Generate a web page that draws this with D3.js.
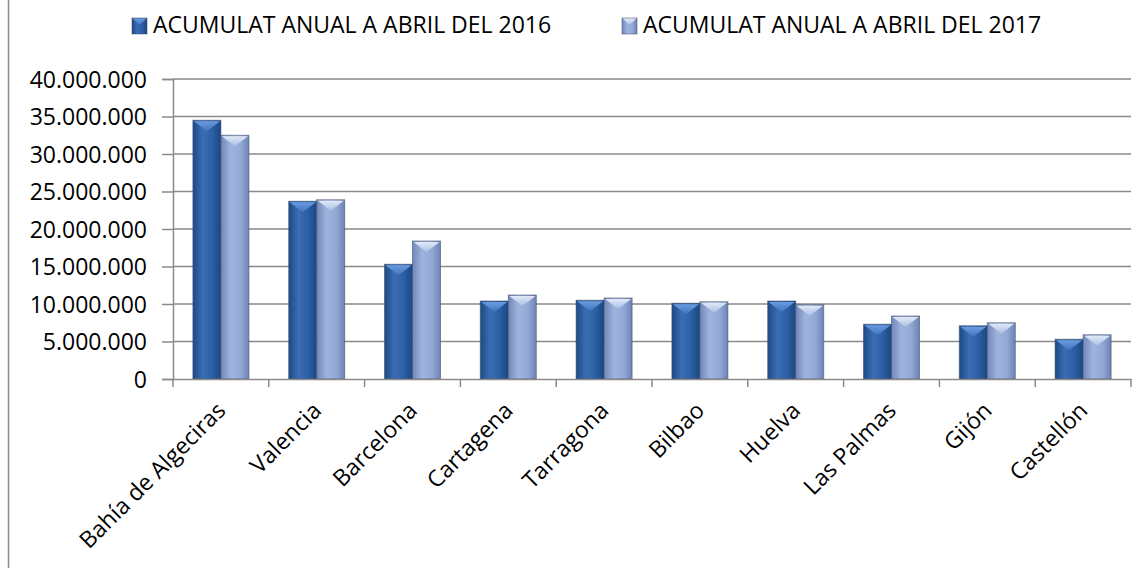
<!DOCTYPE html>
<html>
<head>
<meta charset="utf-8">
<script src="https://cdn.jsdelivr.net/npm/d3@7"></script>
<style>
  body { margin: 0; background: #fff; }
  svg text { font-family: "Open Sans", sans-serif; fill: #000; }
</style>
</head>
<body>
<div id="chart"></div>
<script>
// Ports and yearly totals
const ports = ["Bahía de Algeciras", "Valencia", "Barcelona", "Cartagena", "Tarragona",
               "Bilbao", "Huelva", "Las Palmas", "Gijón", "Castellón"];
const values2016 = [34500000, 23700000, 15300000, 10400000, 10500000, 10100000, 10400000, 7300000, 7100000, 5300000];
const values2017 = [32500000, 23900000, 18400000, 11200000, 10800000, 10300000, 9900000, 8400000, 7500000, 5900000];
const seriesNames = ["ACUMULAT ANUAL A ABRIL DEL 2016", "ACUMULAT ANUAL A ABRIL DEL 2017"];
const yTicks = [0, 5000000, 10000000, 15000000, 20000000, 25000000, 30000000, 35000000, 40000000];

const W = 1147, H = 568;
const margin = { top: 79, right: 16, bottom: 189, left: 173 };
const width = W - margin.left - margin.right;
const height = H - margin.top - margin.bottom;
const fontSize = "23px";

const svg = d3.select("#chart").append("svg")
    .attr("width", W).attr("height", H);

// gradients for the bevelled bars
const defs = svg.append("defs");
const styles = [
    { id: "g0", stops: ["#1d4a86", "#3a6db3", "#2c5ea3", "#1c4680"], cap: ["#6b9be0", "#3f74bd"] },
    { id: "g1", stops: ["#6f88bb", "#9fb3dc", "#93a9d5", "#6c84b5"], cap: ["#e2eaf8", "#a9bde3"] }
];
styles.forEach(s => {
    const g = defs.append("linearGradient").attr("id", s.id).attr("x1", "0").attr("x2", "1").attr("y1", "0").attr("y2", "0");
    [0, 0.35, 0.7, 1].forEach((o, i) => g.append("stop").attr("offset", o).attr("stop-color", s.stops[i]));
    const c = defs.append("linearGradient").attr("id", s.id + "c").attr("x1", "0").attr("x2", "0").attr("y1", "0").attr("y2", "1");
    c.append("stop").attr("offset", 0).attr("stop-color", s.cap[0]);
    c.append("stop").attr("offset", 1).attr("stop-color", s.cap[1]);
});

// outer chart border (left edge visible)
svg.append("line").attr("x1", 8.5).attr("x2", 8.5).attr("y1", 0).attr("y2", H)
    .attr("stroke", "#8c8c8c").attr("stroke-width", 1.5);

const g = svg.append("g").attr("transform", `translate(${margin.left},${margin.top})`);

const x = d3.scaleBand().domain(ports).range([0, width]).paddingInner(0).paddingOuter(0);
const x1 = d3.scaleBand().domain([0, 1]).range([0, x.bandwidth()]).paddingInner(0).paddingOuter(0.71);
const y = d3.scaleLinear().domain([0, 40000000]).range([height, 0]);

// gridlines
g.append("g").selectAll("line").data(yTicks.slice(1)).enter().append("line")
    .attr("x1", 0).attr("x2", width)
    .attr("y1", d => y(d)).attr("y2", d => y(d))
    .attr("stroke", "#8a8a8a").attr("stroke-width", 1.5);

// y axis
const yAxis = g.append("g")
    .call(d3.axisLeft(y).tickValues(yTicks).tickSize(11).tickPadding(15)
        .tickFormat(d => d3.format(",")(d).replace(/,/g, ".")));
yAxis.selectAll("path, line").attr("stroke", "#8a8a8a").attr("stroke-width", 1.5);
yAxis.selectAll("text").style("font-size", fontSize).style("font-family", "'Open Sans', sans-serif").attr("dy", "0.35em");

// bars
const data = ports.map((p, i) => ({ port: p, vals: [values2016[i], values2017[i]] }));
const groups = g.selectAll(".grp").data(data).enter().append("g")
    .attr("transform", d => `translate(${x(d.port)},0)`);

[0, 1].forEach(s => {
    const bw = x1.bandwidth();
    groups.append("rect")
        .attr("x", x1(s)).attr("y", d => y(d.vals[s]))
        .attr("width", bw).attr("height", d => height - y(d.vals[s]))
        .attr("fill", `url(#g${s})`)
        .attr("stroke", "#3b4a63").attr("stroke-opacity", 0.55).attr("stroke-width", 1);
    groups.append("path")
        .attr("d", d => {
            const x0 = x1(s) + 1, xr = x1(s) + bw - 1, t = y(d.vals[s]) + 1;
            return `M${x0},${t}L${xr},${t}L${x1(s) + bw / 2},${t + 10}Z`;
        })
        .attr("fill", `url(#g${s}c)`);
});

// x axis
const xAxis = g.append("g").attr("transform", `translate(0,${height})`)
    .call(d3.axisBottom(x).tickSize(0).tickFormat(""));
xAxis.selectAll("path").attr("stroke", "#8a8a8a").attr("stroke-width", 1.5);
xAxis.append("g").selectAll("line").data(d3.range(ports.length + 1)).enter().append("line")
    .attr("x1", i => i * x.step()).attr("x2", i => i * x.step())
    .attr("y1", 0).attr("y2", 8)
    .attr("stroke", "#8a8a8a").attr("stroke-width", 1.5);

g.append("g").selectAll("text").data(ports).enter().append("text")
    .attr("transform", d => `translate(${x(d) + x.bandwidth() / 2 + 6},${height + 33}) rotate(-45)`)
    .attr("text-anchor", "end")
    .style("font-size", fontSize)
    .text(d => d);

// legend
const legend = svg.append("g");
const legendX = [132, 622];
seriesNames.forEach((name, i) => {
    const lg = legend.append("g").attr("transform", `translate(${legendX[i]},18)`);
    lg.append("rect").attr("width", 15).attr("height", 16).attr("fill", `url(#g${i})`)
        .attr("stroke", "#3b4a63").attr("stroke-opacity", 0.5);
    lg.append("path").attr("d", "M0.5,0.5L14.5,0.5L7.5,7Z").attr("fill", `url(#g${i}c)`);
    lg.append("text").attr("x", 21).attr("y", 15).style("font-size", fontSize).text(name);
});
</script>
</body>
</html>
